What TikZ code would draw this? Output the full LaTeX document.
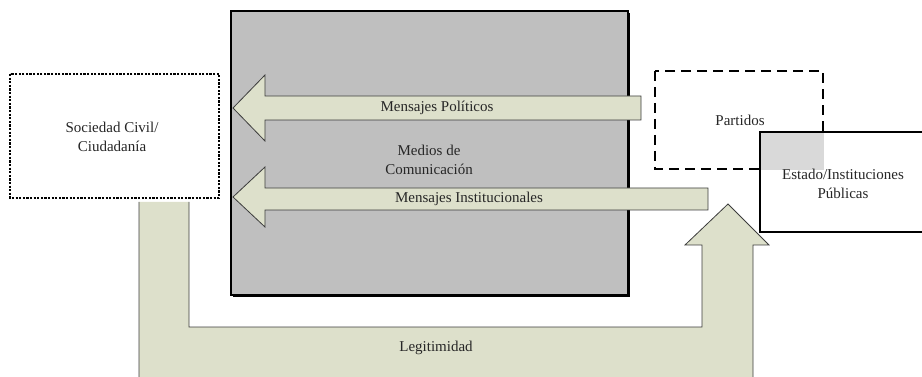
\documentclass[tikz,border=0pt]{standalone}
\usepackage{fontspec}
\setmainfont{Liberation Serif}
\definecolor{arrowfill}{RGB}{221,224,203}
\definecolor{mediagray}{RGB}{191,191,191}
\definecolor{overlapgray}{RGB}{217,217,217}
\definecolor{edgegray}{RGB}{60,60,60}
\begin{document}
\begin{tikzpicture}[x=1pt,y=-1pt,
  lbl/.style={font=\fontsize{15}{19.5}\selectfont, text=black!85, align=center, inner sep=0pt},
  blockarrow/.style={fill=arrowfill, draw=edgegray, line width=0.8pt, line join=miter},
  sociedadbox/.style={draw=black, line width=1.9pt, dash pattern=on 2.2pt off 1.4pt, fill=white},
  partidosbox/.style={draw=black, line width=2.2pt, dash pattern=on 10pt off 6pt},
  estadobox/.style={draw=black, line width=1.8pt, fill=white},
  mediabox/.style={draw=black, line width=1.5pt, fill=mediagray}
]
\useasboundingbox (0,0) rectangle (922,377);

% Legitimidad U-arrow
\draw[blockarrow] (189,202) -- (189,327) -- (702,327) -- (702,245) -- (685,245) -- (728,204) -- (769,245) -- (753,245) -- (753,380) -- (139,380) -- (139,202);
\node[lbl] (legit) at (436,348) {Legitimidad};

% Medios de comunicacion box with shadow
\fill[black] (233,13) rectangle (630,297);
\draw[mediabox] (231,11) rectangle (628,295);
\node[lbl] (medios) at (429,160) {Medios de\\Comunicación};

% Sociedad Civil box
\draw[sociedadbox] (10,74) rectangle (219,198);
\node[lbl] (sociedad) at (112,137) {Sociedad Civil/\\Ciudadanía};

% Mensajes Politicos arrow
\draw[blockarrow] (233,108) -- (265,75) -- (265,96) -- (641,96) -- (641,120) -- (265,120) -- (265,141) -- cycle;
\node[lbl] (mpol) at (437,108) {Mensajes Políticos};

% Mensajes Institucionales arrow
\draw[blockarrow] (233,197) -- (265,167) -- (265,188) -- (708,188) -- (708,210) -- (265,210) -- (265,227) -- cycle;
\node[lbl] (minst) at (469,199) {Mensajes Institucionales};

% Estado box
\draw[estadobox] (760,132) rectangle (930,232);
% Partidos box
\draw[partidosbox] (655,71) rectangle (823,169);
\fill[overlapgray] (761,133) rectangle (824,170);
\node[lbl] (partidos) at (740,120) {Partidos};
\node[lbl] (estado) at (843,184) {Estado/Instituciones\\Públicas};
\end{tikzpicture}
\end{document}
